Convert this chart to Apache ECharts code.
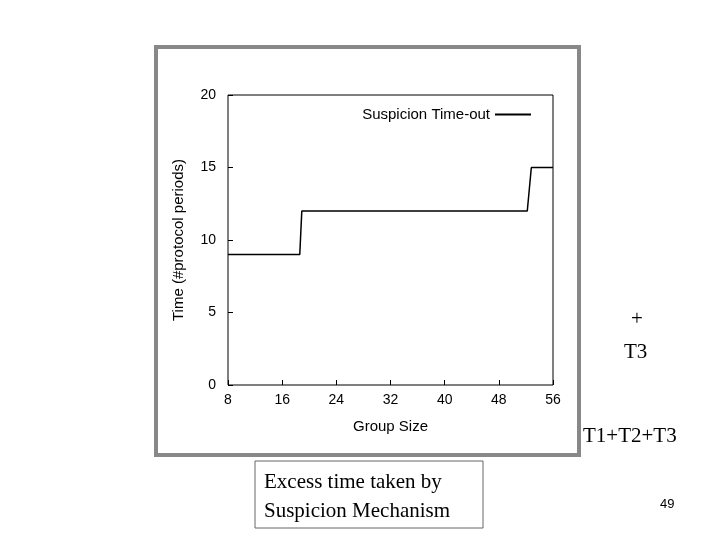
<!DOCTYPE html>
<html><head><meta charset="utf-8">
<script src="https://cdn.jsdelivr.net/npm/echarts@6/dist/echarts.min.js"></script>
<style>html,body{margin:0;padding:0;background:#fff}#c{width:720px;height:540px}</style>
</head><body><div id="c"></div>
<script>
const seriesName = 'Suspicion Time-out';
const groupSize = [8, 18.6, 18.9, 52.2, 52.8, 56];
const timeout = [9, 9, 12, 12, 15, 15];
const xTicks = [8, 16, 24, 32, 40, 48, 56];
const yTicks = [0, 5, 10, 15, 20];

const chart = echarts.init(document.getElementById('c'));
const font = 'Liberation Sans, Arial, sans-serif';
chart.setOption({
  animation: false,
  graphic: [
    {type:'rect', z:-10, shape:{x:156,y:47,width:423,height:408}, style:{fill:'#fff', stroke:'#888', lineWidth:4}},
    {type:'text', left:631, top:309, style:{text:'+', font:'21px "Liberation Serif", serif', fill:'#000'}},
    {type:'text', left:624, top:342, style:{text:'T3', font:'21px "Liberation Serif", serif', fill:'#000'}},
    {type:'text', left:583, top:426, style:{text:'T1+T2+T3', font:'21px "Liberation Serif", serif', fill:'#000'}},
    {type:'rect', shape:{x:255,y:461,width:228,height:67}, style:{fill:'#fff', stroke:'#666', lineWidth:1}},
    {type:'text', left:264, top:468, style:{text:'Excess time taken by\nSuspicion Mechanism', font:'21px "Liberation Serif", serif', lineHeight:29, fill:'#000'}},
    {type:'text', left:660, top:498, style:{text:'49', font:'13px '+font, fill:'#000'}}
  ],
  grid: {left:228, right:167, top:95, bottom:155, show:true, borderColor:'#000', borderWidth:1},
  legend: {data:[seriesName], right:184, top:102, icon:'path://M0,0L40,0L40,2L0,2Z', itemWidth:36, itemHeight:2, textStyle:{fontFamily:font, fontSize:15, color:'#000'}, align:'right', itemGap:5},
  xAxis: {type:'value', min:8, max:56, interval:8, name:'Group Size', nameLocation:'middle', nameGap:34,
    nameTextStyle:{fontFamily:font, fontSize:15, color:'#000'},
    axisLine:{show:false}, axisTick:{show:true, inside:true, length:5, lineStyle:{color:'#000'}}, splitLine:{show:false},
    axisLabel:{fontFamily:font, fontSize:14, color:'#000', margin:8}},
  yAxis: {type:'value', min:0, max:20, interval:5, name:'Time (#protocol periods)', nameLocation:'middle', nameGap:42,
    nameTextStyle:{fontFamily:font, fontSize:15, color:'#000'},
    axisLine:{show:false}, axisTick:{show:true, inside:true, length:5, lineStyle:{color:'#000'}}, splitLine:{show:false},
    axisLabel:{fontFamily:font, fontSize:14, color:'#000', margin:12}},
  series: [{name:seriesName, type:'line', showSymbol:false, data: groupSize.map((x,i)=>[x, timeout[i]]),
    lineStyle:{color:'#000', width:1.5}, itemStyle:{color:'#000'}}]
});
</script></body></html>
